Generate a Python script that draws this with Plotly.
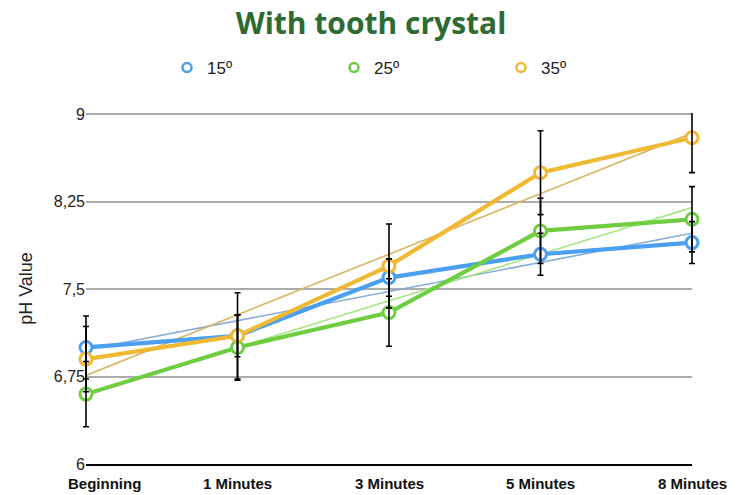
import numpy as np
import plotly.graph_objects as go

# Measurement times and pH readings per temperature
times = ["Beginning", "1 Minutes", "3 Minutes", "5 Minutes", "8 Minutes"]
temps = ["15º", "25º", "35º"]
ph_15 = [7.0, 7.1, 7.6, 7.8, 7.9]
ph_25 = [6.6, 7.0, 7.3, 8.0, 8.1]
ph_35 = [6.9, 7.1, 7.7, 8.5, 8.8]
err_15 = [0.27, 0.18, 0.16, 0.18, 0.18]
err_25 = [0.28, 0.28, 0.29, 0.28, 0.28]
err_35 = [0.28, 0.37, 0.36, 0.36, 0.30]

y_ticks = [6, 6.75, 7.5, 8.25, 9]
y_tick_text = ["6", "6,75", "7,5", "8,25", "9"]
y_range = [6, 9.012]

series = [ph_15, ph_25, ph_35]
errors = [err_15, err_25, err_35]
line_colors = ["#4a9ff0", "#6fcd42", "#f0b933"]
trend_colors = ["#86acd8", "#a6e886", "#d9b466"]

# plotting region: the error-bar layer is a few pixels wider than the
# main axes so caps at the first/last category are not cut off
W, H = 742, 495
ML, MR, MT, MB = 80, 44, 113, 31
pad_px = 6
inner_w = W - ML - MR
px_per_cat = (inner_w - 2 * pad_px) / (len(times) - 1)
pad_cat = pad_px / px_per_cat

fig = go.Figure()
xi = np.arange(len(times))

# linear trend lines (least squares fit of each series)
for vals, col in zip(series, trend_colors):
    slope, icpt = np.polyfit(xi, vals, 1)
    fig.add_trace(go.Scatter(
        x=times, y=list(slope * xi + icpt), mode="lines",
        line=dict(color=col, width=1.6), showlegend=False, hoverinfo="skip"))

# measured series
for vals, col, name in zip(series, line_colors, temps):
    fig.add_trace(go.Scatter(
        x=times, y=vals, mode="lines+markers", name=name, showlegend=False,
        cliponaxis=False,
        line=dict(color=col, width=4.2),
        marker=dict(symbol="circle", size=12, color="white",
                    line=dict(color=col, width=3))))

# error bars, drawn on top of the markers
for vals, errs in zip(series, errors):
    fig.add_trace(go.Scatter(
        x=times, y=vals, mode="markers", showlegend=False, hoverinfo="skip",
        xaxis="x2", yaxis="y2",
        marker=dict(size=1, opacity=0),
        error_y=dict(type="data", array=errs, visible=True,
                     color="black", thickness=1.6, width=3)))

# legend entries
for col, name in zip(line_colors, temps):
    fig.add_trace(go.Scatter(
        x=[None], y=[None], mode="markers", name=name,
        marker=dict(symbol="circle", size=9, color="white",
                    line=dict(color=col, width=2.5))))

# category labels under the axis (the first one is nudged inward)
for i, t in enumerate(times):
    fig.add_annotation(
        x=t, xref="x", y=0, yref="paper", yanchor="middle",
        yshift=-19, xshift=18 if i == 0 else 0, showarrow=False,
        text="<b>" + t + "</b>",
        font=dict(family="Liberation Sans", size=15, color="#111111"))

fig.update_layout(
    width=W, height=H,
    margin=dict(l=ML, r=MR, t=MT, b=MB),
    paper_bgcolor="white", plot_bgcolor="rgba(0,0,0,0)",
    title=dict(text="<b>With tooth crystal</b>", x=0.5, xanchor="center",
               xref="container", y=1 - 23 / H, yref="container",
               yanchor="middle",
               font=dict(family="Open Sans", size=30, color="#2e6b32")),
    legend=dict(orientation="h", x=(167 - ML) / inner_w, xanchor="left",
                y=1 + (MT - 68) / (H - MT - MB), yanchor="middle",
                entrywidth=122, entrywidthmode="pixels",
                font=dict(family="Liberation Sans", size=17, color="#222222"),
                bgcolor="rgba(0,0,0,0)"),
    xaxis=dict(type="category", range=[0, len(times) - 1],
               domain=[pad_px / inner_w, 1 - pad_px / inner_w],
               showgrid=False, showline=True, linecolor="black", linewidth=2,
               ticks="", showticklabels=False, anchor="y"),
    yaxis=dict(range=y_range, tickvals=y_ticks, ticktext=y_tick_text,
               anchor="x",
               showgrid=True, gridcolor="#ababab", gridwidth=2,
               zeroline=False, showline=False, ticks="",
               tickfont=dict(family="Liberation Sans", size=16, color="#222222"),
               title=dict(text="pH Value", standoff=16,
                          font=dict(family="Liberation Sans", size=18,
                                    color="#222222"))),
    xaxis2=dict(type="category", categoryarray=times,
                range=[-pad_cat, len(times) - 1 + pad_cat], domain=[0, 1],
                anchor="y2", visible=False, showgrid=False),
    yaxis2=dict(range=y_range, domain=[0, 1], anchor="x2", visible=False,
                showgrid=False, zeroline=False),
)

fig.write_html("out.html")
